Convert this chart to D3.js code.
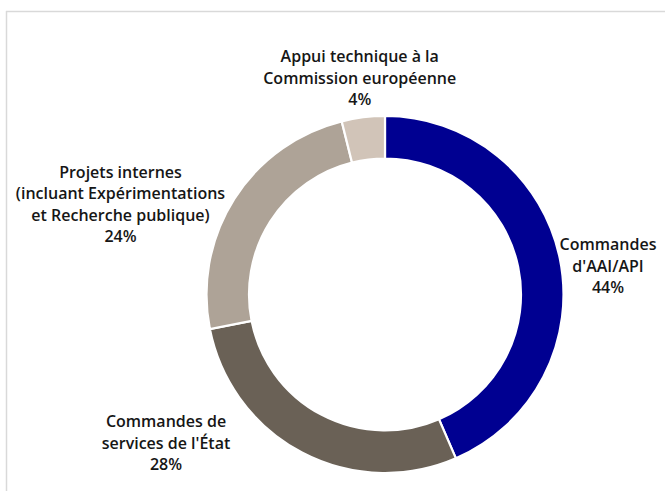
<!DOCTYPE html>
<html><head><meta charset="utf-8">
<script src="https://cdn.jsdelivr.net/npm/d3@7"></script>
<style>
html,body{margin:0;padding:0;background:#fff;}
svg{display:block;}
</style></head>
<body>
<svg id="chart" width="665" height="491"></svg>
<script>
const categories = ["Commandes d'AAI/API", "Commandes de services de l'État", "Projets internes (incluant Expérimentations et Recherche publique)", "Appui technique à la Commission européenne"];
const values = [43.5, 28.4, 24.2, 3.9];
const labelLines = [
  ["Commandes", "d'AAI/API"],
  ["Commandes de", "services de l'État"],
  ["Projets internes", "(incluant Expérimentations", "et Recherche publique)"],
  ["Appui technique à la", "Commission européenne"]
];
const colors = ["#000091", "#6a6156", "#aea397", "#d1c4b8"];

// layout
const W = 665, H = 491;
const cx = 385, cy = 294.5, outerR = 178.5, innerR = 136;
const labelR = 215;
const labelOffsets = [[12.5, 15], [-119, -42], [-83, 25], [1, -3]];
const lineH = 21.5;

const svg = d3.select("#chart");
// frame
svg.append("line").attr("x1", 6).attr("x2", W).attr("y1", 11.5).attr("y2", 11.5)
  .attr("stroke", "#d9d9d9").attr("stroke-width", 1.5);
svg.append("line").attr("x1", 6.5).attr("x2", 6.5).attr("y1", 11).attr("y2", H)
  .attr("stroke", "#d9d9d9").attr("stroke-width", 1.5);

const data = categories.map((c, i) => ({cat: c, value: values[i], lines: labelLines[i], color: colors[i], i}));
const pie = d3.pie().value(d => d.value).sort(null);
const arcs = pie(data);
const arc = d3.arc().innerRadius(innerR).outerRadius(outerR);

const g = svg.append("g").attr("transform", `translate(${cx},${cy})`);
g.selectAll("path.slice").data(arcs).join("path")
  .attr("class", "slice")
  .attr("d", arc)
  .attr("fill", d => d.data.color)
  .attr("stroke", "#fff").attr("stroke-width", 2.2).attr("stroke-linejoin", "miter");

g.selectAll("text.lbl").data(arcs).join("text")
  .attr("class", "lbl")
  .attr("text-anchor", "middle")
  .attr("font-family", "'Open Sans', Lato, sans-serif")
  .attr("font-weight", 600)
  .attr("font-size", 16)
  .attr("fill", "#161616")
  .each(function(d) {
    const mid = (d.startAngle + d.endAngle) / 2;
    const off = labelOffsets[d.data.i];
    const x = Math.sin(mid) * labelR + off[0];
    const y = -Math.cos(mid) * labelR + off[1];
    const lines = d.data.lines.concat([d3.format(".0f")(d.data.value) + "%"]);
    const n = lines.length;
    const t = d3.select(this);
    lines.forEach((ln, k) => {
      t.append("tspan").attr("x", x).attr("y", y + (k - (n - 1) / 2) * lineH)
        .attr("dy", "0.36em").text(ln);
    });
  });
</script>
</body></html>
